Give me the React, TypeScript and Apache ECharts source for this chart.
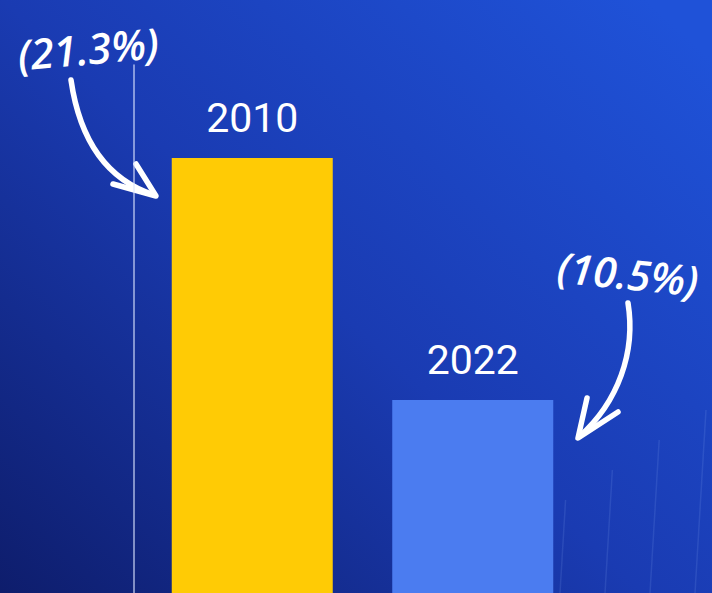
import React, { useEffect, useRef } from "react";
import * as echarts from "echarts";

const categories = ["2010", "2022"];
const values = [21.3, 10.5];
const barColors = ["#FFCB05", "#4B7CF0"];

export default function App() {
  const ref = useRef<HTMLDivElement>(null);
  useEffect(() => {
    if (!ref.current) return;
    const chart = echarts.init(ref.current, null, { renderer: "svg" });
    const annotation = (v: number) => `(${v}%)`;
    const handFont = {
      fill: "#ffffff",
      fontFamily: "Open Sans",
      fontStyle: "italic",
      fontWeight: 600,
      fontSize: 42,
      align: "center",
      verticalAlign: "middle",
    };
    const strokeStyle = { stroke: "#ffffff", lineWidth: 5.5, lineCap: "round", lineJoin: "round", fill: null };
    const gridLineStyle = { stroke: "rgba(160,190,255,0.13)", lineWidth: 1.5 };
    const faintLines: any[] = [];
    [[470, 560], [515, 520], [560, 500], [605, 470], [650, 440], [695, 410]].forEach(([bx, ty]) => {
      faintLines.push({ type: "line", silent: true, z: -1, shape: { x1: bx, y1: 593, x2: bx + (593 - ty) * 0.06, y2: ty }, style: gridLineStyle });
    });
    chart.setOption({
      animation: false,
      backgroundColor: new echarts.graphic.LinearGradient(0, 1, 1, 0.1, [
        { offset: 0, color: "#0e1d6c" },
        { offset: 0.5, color: "#1a3bb2" },
        { offset: 1, color: "#1f52d8" },
      ]),
      grid: { left: 142, right: 129, top: 65, bottom: 0, containLabel: false },
      xAxis: {
        type: "category",
        data: categories,
        show: false,
      },
      yAxis: {
        type: "value",
        min: 1.89,
        max: 25.45,
        offset: 8,
        axisLine: { show: true, lineStyle: { color: "rgba(220,228,255,0.75)", width: 1.5 } },
        axisTick: { show: false },
        axisLabel: { show: false },
        splitLine: { show: false },
      },
      series: [
        {
          type: "bar",
          barWidth: 161,
          data: values.map((v, i) => ({ value: v, itemStyle: { color: barColors[i] } })),
          label: {
            show: true,
            position: "top",
            distance: 20,
            color: "#ffffff",
            fontFamily: "Roboto",
            fontSize: 41,
            formatter: (p: any) => categories[p.dataIndex],
          },
        },
      ],
      graphic: [
        ...faintLines,
        { type: "text", x: 88, y: 48, rotation: 0.09, style: { ...handFont, text: annotation(values[0]) } },
        { type: "text", x: 628, y: 273, rotation: -0.1, style: { ...handFont, text: annotation(values[1]) } },
        {
          type: "bezierCurve",
          shape: { x1: 71, y1: 80, cpx1: 80, cpy1: 142, cpx2: 108, cpy2: 180, x2: 154, y2: 195 },
          style: strokeStyle,
        },
        { type: "polyline", shape: { points: [[113, 184], [156, 196], [136, 164]] }, style: strokeStyle },
        {
          type: "bezierCurve",
          shape: { x1: 628, y1: 303, cpx1: 636, cpy1: 352, cpx2: 618, cpy2: 402, x2: 580, y2: 436 },
          style: strokeStyle,
        },
        { type: "polyline", shape: { points: [[587, 398], [578, 438], [618, 412]] }, style: strokeStyle },
      ],
    });
    return () => chart.dispose();
  }, []);
  return <div ref={ref} style={{ position: "fixed", left: 0, top: 0, width: 712, height: 593 }} />;
}
